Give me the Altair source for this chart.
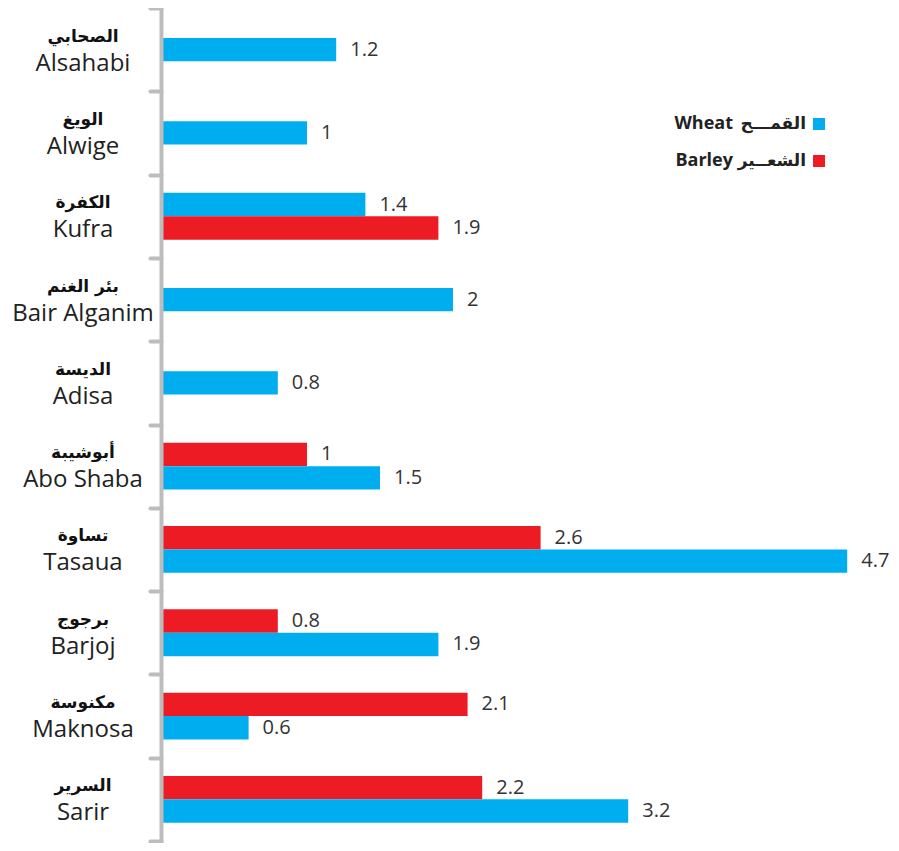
import altair as alt
import pandas as pd

# ---- data ----
regions_en = ["Alsahabi", "Alwige", "Kufra", "Bair Alganim", "Adisa",
              "Abo Shaba", "Tasaua", "Barjoj", "Maknosa", "Sarir"]
regions_ar = ["الصحابي", "الويغ", "الكفرة", "بئر الغنم", "الديسة",
              "أبوشيبة", "تساوة", "برجوج", "مكنوسة", "السرير"]
wheat = [1.2, 1, 1.4, 2, 0.8, 1.5, 4.7, 1.9, 0.6, 3.2]
barley = [None, None, 1.9, None, None, 1, 2.6, 0.8, 2.1, 2.2]
barley_on_top = [False, False, False, False, False, True, True, True, True, True]

crops = ["Wheat", "Barley"]
crop_ar = ["القمـــح", "الشعــير"]
crop_colors = ["#00AEEF", "#ED1C24"]

# ---- tables ----
pair_rows, single_rows = [], []
for i, reg in enumerate(regions_en):
    w, b = wheat[i], barley[i]
    if b is None:
        single_rows.append({"region": reg, "crop": "Wheat", "value": w, "label": f"{w:g}"})
    else:
        vals = {"Wheat": w, "Barley": b}
        order = ["Barley", "Wheat"] if barley_on_top[i] else ["Wheat", "Barley"]
        for slot, c in zip(["a", "b"], order):
            pair_rows.append({"region": reg, "crop": c, "value": vals[c],
                              "label": f"{vals[c]:g}", "slot": slot})
df_pair = pd.DataFrame(pair_rows)
df_single = pd.DataFrame(single_rows)
df_reg = pd.DataFrame({"region": regions_en, "ar": regions_ar})

GRAY = "#bdbdbd"
y_enc = alt.Y("region:N",
              scale=alt.Scale(domain=regions_en, paddingInner=0, paddingOuter=0),
              axis=alt.Axis(labels=False, title=None, domainColor=GRAY, domainWidth=4,
                            tickColor=GRAY, tickWidth=4, tickSize=11, tickBand="extent",
                            tickCap="round", domainCap="round", zindex=1))
x_enc = alt.X("value:Q", scale=alt.Scale(domain=[0, 5], nice=False), axis=None)
color_enc = alt.Color("crop:N", scale=alt.Scale(domain=crops, range=crop_colors), legend=None)
yoff = alt.YOffset("slot:N", scale=alt.Scale(domain=["a", "b"], paddingInner=0, paddingOuter=0.78))

val_style = dict(align="left", baseline="middle", dx=14, fontSize=20,
                 font="Open Sans", color="#333333")

pair_bars = alt.Chart(df_pair).mark_bar().encode(x=x_enc, y=y_enc, yOffset=yoff, color=color_enc)
pair_text = alt.Chart(df_pair).mark_text(**val_style).encode(x=x_enc, y=y_enc, yOffset=yoff, text="label:N")
single_bars = alt.Chart(df_single).mark_bar(height=alt.RelativeBandSize(0.28)).encode(
    x=x_enc, y=y_enc, color=color_enc)
single_text = alt.Chart(df_single).mark_text(**val_style).encode(x=x_enc, y=y_enc, text="label:N")

ar_lab = alt.Chart(df_reg).mark_text(align="center", baseline="middle", dy=-13, fontSize=17,
                                     fontWeight="bold", font="DejaVu Sans", color="#111111").encode(
    x=alt.value(-78), y=y_enc, text="ar:N")
en_lab = alt.Chart(df_reg).mark_text(align="center", baseline="middle", dy=14, fontSize=24,
                                     font="Open Sans", color="#222222").encode(
    x=alt.value(-78), y=y_enc, text="region:N")

legend_layers = []
for k, (c, a, col) in enumerate(zip(crops, crop_ar, crop_colors)):
    ly = 116 + 37 * k
    d = pd.DataFrame({"en": [c], "ar": [a]})
    legend_layers.append(alt.Chart(d).mark_square(size=144, color=col, opacity=1).encode(
        x=alt.value(658), y=alt.value(ly)))
    legend_layers.append(alt.Chart(d).mark_text(align="right", baseline="middle", fontSize=17,
                                                fontWeight="bold", font="DejaVu Sans",
                                                color="#222222").encode(
        x=alt.value(645), y=alt.value(ly), text="ar:N"))
    legend_layers.append(alt.Chart(d).mark_text(align="right", baseline="middle", fontSize=18,
                                                fontWeight="bold", font="Open Sans",
                                                color="#222222").encode(
        x=alt.value(572), y=alt.value(ly), text="en:N"))

chart = alt.layer(pair_bars, single_bars, pair_text, single_text, ar_lab, en_lab,
                  *legend_layers).properties(
    width=730, height=833,
    autosize=alt.AutoSizeParams(type="none"),
    padding={"left": 153, "top": 0, "right": 0, "bottom": 2},
).configure_view(stroke=None)

chart.save("out.html", embed_options={"renderer": "svg", "actions": False})
